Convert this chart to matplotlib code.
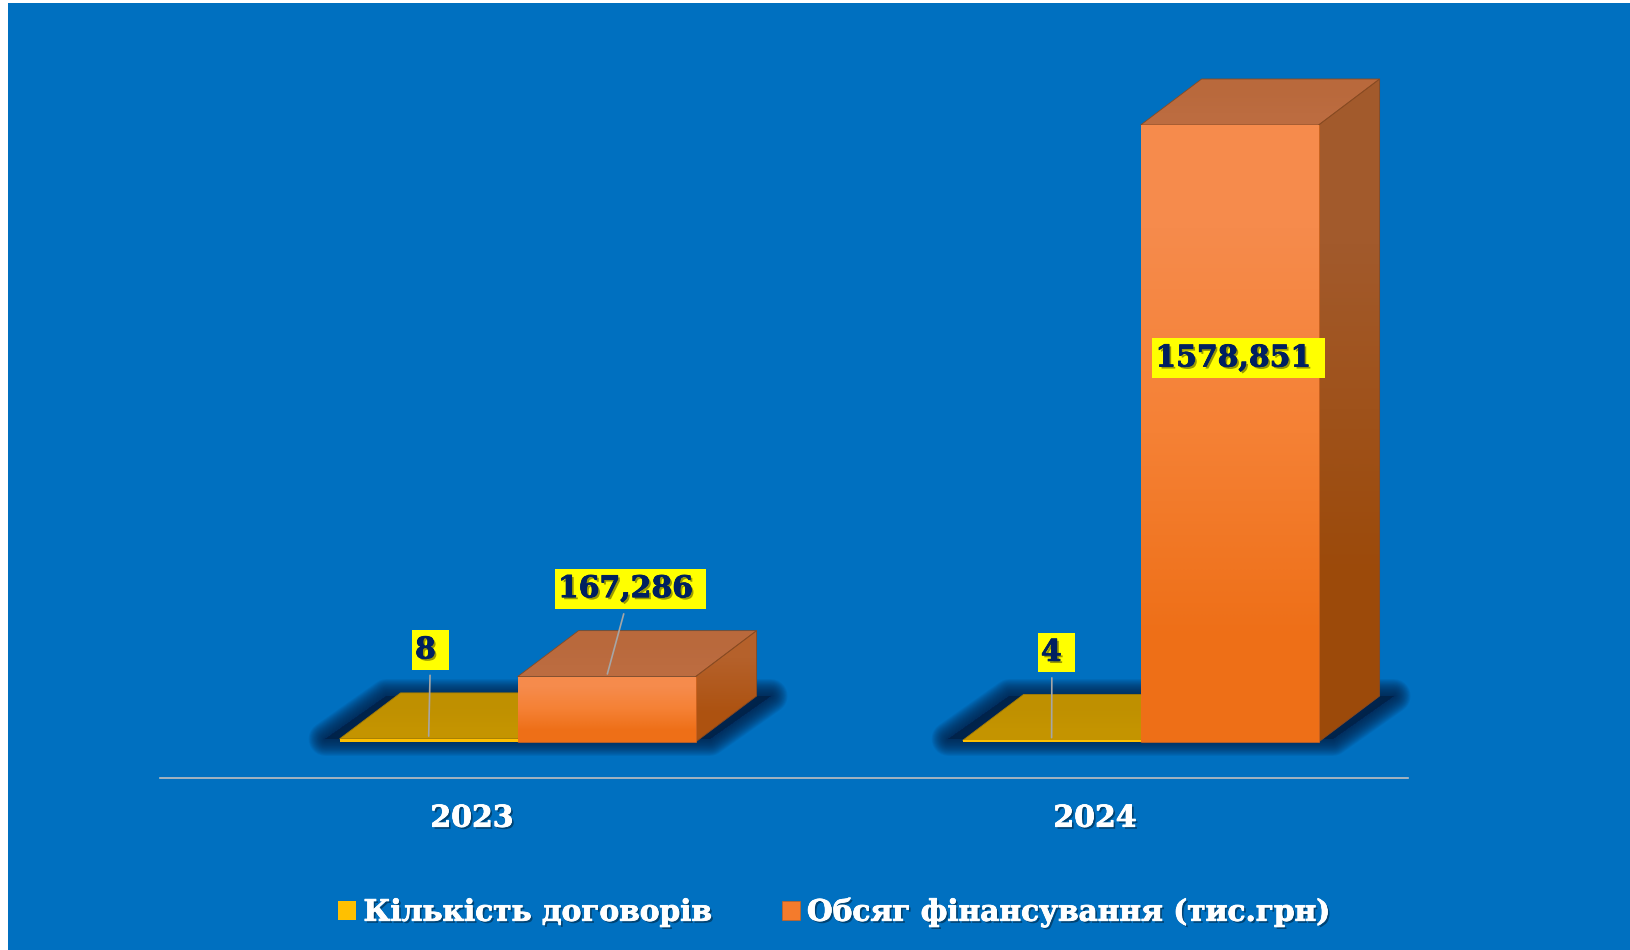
import matplotlib
matplotlib.use('Agg')
import matplotlib.pyplot as plt
import matplotlib.patheffects as pe
from matplotlib.colors import LinearSegmentedColormap
from matplotlib.patches import Polygon, Rectangle
import numpy as np

# data
years = ['2023', '2024']
contracts = [8, 4]
funding = [167.286, 1578.851]
contracts_labels = ['8 ', '4 ']
funding_labels = ['167,286 ', '1578,851 ']
series_names = ['Кількість договорів', 'Обсяг фінансування (тис.грн)']

W, H = 1630, 950
BG = '#0070C0'
FONT = 'DejaVu Serif'

fig = plt.figure(figsize=(W / 100, H / 100), dpi=100, facecolor=BG)
# white strips of the screenshot
fig.add_artist(Rectangle((0, 0), 8 / W, 1, transform=fig.transFigure, fc='white', ec='none'))
fig.add_artist(Rectangle((0, 1 - 3 / H), 1, 3 / H, transform=fig.transFigure, fc='white', ec='none'))

# axes box runs along the category line, marks go above it
ax = fig.add_axes([160 / W, (H - 778) / H, 1248 / W, 775 / H])
ax.set_facecolor('none')

x_unit = 623
y_unit = 617 / 1578.851
dx = 61 / x_unit
dy = 46 / y_unit
bar_w = 178 / x_unit
x = np.arange(len(years))
gold_x = x - 0.2125
orange_x = gold_x + bar_w


def grad(colors, poly, extent, z):
    cmap = LinearSegmentedColormap.from_list('g', colors)
    im = ax.imshow([[0], [1]], cmap=cmap, extent=extent, origin='upper', aspect='auto',
                   interpolation='bilinear', zorder=z)
    ax.add_patch(poly)
    poly.set_facecolor('none')
    im.set_clip_path(poly)
    return im


def shadow(x0, x1):
    pad = 14 / x_unit
    pts = [(x0 - pad, 3 / y_unit), (x1 + pad, 3 / y_unit),
           (x1 + dx + pad, dy), (x0 + dx - pad, dy)]
    for lw in np.linspace(34, 2, 20):
        ax.add_patch(Polygon(pts, closed=True, fc='#00234A', ec='#00234A', lw=lw * 0.72, alpha=0.07,
                             joinstyle='round', zorder=1, clip_on=False))


def box(x0, v, w, side, top, z, edge):
    # side and top faces of the 3d bar, front face comes from ax.bar
    side_poly = Polygon([(x0 + w, 0), (x0 + w + dx, dy), (x0 + w + dx, v + dy), (x0 + w, v)],
                        closed=True, ec=edge, lw=0.6, zorder=z + 0.2)
    grad(side, side_poly, (x0 + w, x0 + w + dx, 0, v + dy), z)
    top_poly = Polygon([(x0, v), (x0 + w, v), (x0 + w + dx, v + dy), (x0 + dx, v + dy)],
                       closed=True, ec=edge, lw=0.6, zorder=z + 0.3)
    grad(top, top_poly, (x0, x0 + w + dx, v, v + dy), z + 0.1)


side_colors = [['#B5612B', '#AD5210'], ['#A25A2C', '#9C4A0A']]
for i in range(len(years)):
    shadow(gold_x[i], orange_x[i] + bar_w)
    box(gold_x[i], contracts[i], bar_w, ['#BF9000', '#BF9000'], ['#BF9000', '#C49400'], 2, '#A87E00')
    box(orange_x[i], funding[i], bar_w, side_colors[i], ['#B9693C', '#BC6C40'], 3, '#8A4A20')

gold_bars = ax.bar(gold_x, contracts, bar_w, align='edge', color='#FFC000', zorder=4,
                   label=series_names[0], clip_on=False)
orange_bars = ax.bar(orange_x, funding, bar_w, align='edge', color='#F47B2C', edgecolor='#C8601E', linewidth=0.5,
                     zorder=4, label=series_names[1], clip_on=False)
for i, rect in enumerate(orange_bars):
    cmap = LinearSegmentedColormap.from_list('f', ['#F68B4C', '#F58135', '#EE6F17'])
    im = ax.imshow(np.array([[0], [0.5], [1]]), cmap=cmap, extent=(orange_x[i], orange_x[i] + bar_w, 0, funding[i]),
                   origin='upper', aspect='auto', interpolation='bilinear', zorder=4.1)
    im.set_clip_path(rect)

ax.set_xlim(-(472 - 160) / x_unit, (1408 - 472) / x_unit)
ax.set_ylim(-36 / y_unit, (742 - 3) / y_unit)


def text_fx(color):
    return [pe.withSimplePatchShadow(offset=(1.5, -1.5), shadow_rgbFace='black', alpha=0.4),
            pe.withStroke(linewidth=0.6, foreground=color)]


# value labels
contract_off = [(2, 89), (5, 88)]
funding_off = [(24, 88), (9, -233)]
label_kw = dict(textcoords='offset pixels', ha='center', va='center', fontsize=21.5, fontweight='bold',
                family=FONT, color='#002060', annotation_clip=False, zorder=6, path_effects=text_fx('#002060'),
                bbox=dict(boxstyle='square,pad=0.1', mutation_aspect=1.8, fc='#FFFF00', ec='none'))
arrow = dict(arrowstyle='-', color='#A6A6A6', lw=1.2, shrinkA=4, shrinkB=2)
for i in range(len(years)):
    # leader of the 2024 label drops straight down
    rel = (0.5, 0.5) if i == 0 else (0.35, 0.5)
    ax.annotate(contracts_labels[i], (gold_x[i] + bar_w / 2, contracts[i]), xytext=contract_off[i],
                arrowprops=dict(arrow, relpos=rel), **label_kw)
    ax.annotate(funding_labels[i], (orange_x[i] + bar_w / 2, funding[i]), xytext=funding_off[i],
                arrowprops=arrow if i == 0 else None, **label_kw)

# axis
for s in ['top', 'left', 'right']:
    ax.spines[s].set_visible(False)
ax.spines['bottom'].set_color('#BFBFBF')
ax.spines['bottom'].set_linewidth(1.2)
ax.set_yticks([])
ax.set_xticks(x)
ax.set_xticklabels(years, fontsize=21.5, fontweight='bold', family=FONT, color='white',
                   path_effects=text_fx('white'))
ax.tick_params(axis='x', length=0, pad=18.5)

# legend
leg = fig.legend(handles=[gold_bars, orange_bars], loc='center', bbox_to_anchor=(835 / W, (H - 912) / H), ncols=2,
                 frameon=False, handlelength=0.6, handleheight=0.6, handletextpad=0.25, columnspacing=2.35,
                 prop=dict(family=FONT, weight='bold', size=21.3))
for t in leg.get_texts():
    t.set_color('white')
    t.set_path_effects(text_fx('white'))

fig.savefig('out.png', dpi=100, facecolor=fig.get_facecolor())
